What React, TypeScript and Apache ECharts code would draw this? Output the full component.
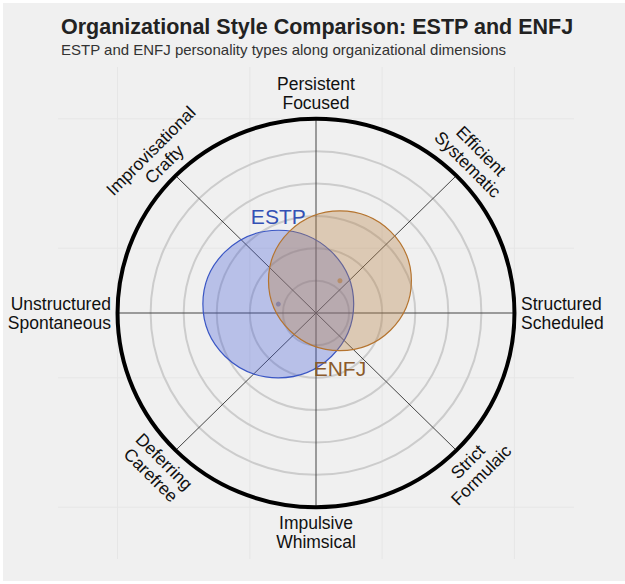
import React, { useEffect, useRef } from "react";
import * as echarts from "echarts";

// Compass of organizational dimensions (degrees, counter-clockwise from the right)
const dimensionAngles = [0, 45, 90, 135, 180, 225, 270, 315];
const dimensionLabels = [
  "Structured\nScheduled",
  "Efficient\nSystematic",
  "Persistent\nFocused",
  "Improvisational\nCrafty",
  "Unstructured\nSpontaneous",
  "Deferring\nCarefree",
  "Impulsive\nWhimsical",
  "Strict\nFormulaic",
];

// Radial scale
const ringRadii = [0.25, 0.5, 0.75, 1.0, 1.25];
const outerRadius = [1.5];
const backgroundTicks = [-1.5, -0.5, 0.5, 1.5];

// Personality types: position of centre and spread
const typeNames = ["ESTP", "ENFJ"];
const typeCenterX = [-0.285, 0.181];
const typeCenterY = [0.069, 0.249];
const typeSpread = [0.57, 0.54];
const typeLabelSide = [1, -1];

const X_MIN = -1.95;
const X_MAX = 1.95;
const Y_MIN = -1.9;
const Y_MAX = 1.9;
const LABEL_RADIUS = 1.55;
const TYPE_LABEL_OFFSET = 0.675;
const FONT = "Liberation Sans, Arial, Helvetica, sans-serif";

const typeStroke = ["#3a56c4", "#b5742f"];
const typeFill = ["rgba(65,90,215,0.32)", "rgba(184,128,70,0.35)"];
const typeText = ["#3350b5", "#8b5a2b"];

export default function App() {
  const ref = useRef<HTMLDivElement>(null);

  useEffect(() => {
    if (!ref.current) return;
    const chart = echarts.init(ref.current, null, { renderer: "svg" });

    const option: any = {
      animation: false,
      backgroundColor: "#ffffff",
      graphic: [
        {
          type: "rect",
          z: -10,
          shape: { x: 3, y: 3, width: 622, height: 578 },
          style: { fill: "#f0f0f0" },
          silent: true,
        },
        {
          type: "text",
          x: 61,
          y: 27,
          style: {
            text: "Organizational Style Comparison: ESTP and ENFJ",
            fill: "#222222",
            fontFamily: FONT,
            fontSize: 21.5,
            fontWeight: "bold",
            align: "left",
            verticalAlign: "middle",
            textAlign: "left",
            textVerticalAlign: "middle",
          },
        },
        {
          type: "text",
          x: 61,
          y: 49,
          style: {
            text: "ESTP and ENFJ personality types along organizational dimensions",
            fill: "#333333",
            fontFamily: FONT,
            fontSize: 15,
            align: "left",
            verticalAlign: "middle",
            textAlign: "left",
            textVerticalAlign: "middle",
          },
        },
      ],
      grid: { left: 58, top: 67, width: 516, height: 492, show: false },
      xAxis: { type: "value", min: X_MIN, max: X_MAX, show: false },
      yAxis: { type: "value", min: Y_MIN, max: Y_MAX, show: false },
      series: [
        // faint background grid
        {
          type: "custom",
          coordinateSystem: "cartesian2d",
          silent: true,
          z: 1,
          data: backgroundTicks.map((v) => [v]),
          renderItem: (_p: any, api: any) => {
            const v = api.value(0);
            const a = api.coord([v, Y_MIN]);
            const b = api.coord([v, Y_MAX]);
            const c = api.coord([X_MIN, v]);
            const d = api.coord([X_MAX, v]);
            const style = { stroke: "#e6e6e6", lineWidth: 1 };
            return {
              type: "group",
              children: [
                { type: "line", shape: { x1: a[0], y1: a[1], x2: b[0], y2: b[1] }, style },
                { type: "line", shape: { x1: c[0], y1: c[1], x2: d[0], y2: d[1] }, style },
              ],
            };
          },
        },
        // concentric rings
        {
          type: "custom",
          coordinateSystem: "cartesian2d",
          silent: true,
          z: 2,
          data: ringRadii.map((r) => [r]),
          renderItem: (_p: any, api: any) => {
            const c = api.coord([0, 0]);
            const r = api.value(0);
            const s = api.size([r, r]);
            return {
              type: "ellipse",
              shape: { cx: c[0], cy: c[1], rx: s[0], ry: s[1] },
              style: { fill: "none", stroke: "#cccccc", lineWidth: 2 },
            };
          },
        },
        // spokes
        {
          type: "custom",
          coordinateSystem: "cartesian2d",
          silent: true,
          z: 3,
          data: dimensionAngles.map((a) => [a]),
          renderItem: (_p: any, api: any) => {
            const a = (api.value(0) * Math.PI) / 180;
            const R = outerRadius[0];
            const c = api.coord([0, 0]);
            const e = api.coord([R * Math.cos(a), R * Math.sin(a)]);
            return {
              type: "line",
              shape: { x1: c[0], y1: c[1], x2: e[0], y2: e[1] },
              style: { stroke: "#444444", lineWidth: 1 },
            };
          },
        },
        // outer boundary
        {
          type: "custom",
          coordinateSystem: "cartesian2d",
          silent: true,
          z: 4,
          data: outerRadius.map((r) => [r]),
          renderItem: (_p: any, api: any) => {
            const c = api.coord([0, 0]);
            const r = api.value(0);
            const s = api.size([r, r]);
            return {
              type: "ellipse",
              shape: { cx: c[0], cy: c[1], rx: s[0], ry: s[1] },
              style: { fill: "none", stroke: "#000000", lineWidth: 4 },
            };
          },
        },
        // dimension labels
        {
          type: "custom",
          coordinateSystem: "cartesian2d",
          silent: true,
          z: 5,
          data: dimensionAngles.map((a, i) => [a, i]),
          renderItem: (_p: any, api: any) => {
            const deg = api.value(0);
            const i = api.value(1);
            const a = (deg * Math.PI) / 180;
            const pt = api.coord([LABEL_RADIUS * Math.cos(a), LABEL_RADIUS * Math.sin(a)]);
            let align = "center";
            let vAlign = "middle";
            let rot = 0;
            if (deg === 0) align = "left";
            else if (deg === 180) align = "right";
            else if (deg < 180) {
              vAlign = "bottom";
              rot = deg - 90;
            } else {
              vAlign = "top";
              rot = deg - 270;
            }
            return {
              type: "text",
              x: pt[0],
              y: pt[1],
              rotation: (rot * Math.PI) / 180,
              style: {
                text: dimensionLabels[i],
                fill: "#111111",
                fontFamily: FONT,
                fontSize: 17.5,
                lineHeight: 19,
                align,
                verticalAlign: vAlign,
                textAlign: align,
                textVerticalAlign: vAlign,
              },
            };
          },
        },
        // personality type circles
        {
          type: "custom",
          coordinateSystem: "cartesian2d",
          silent: true,
          z: 6,
          data: typeNames.map((_n, i) => [typeCenterX[i], typeCenterY[i], typeSpread[i], i]),
          renderItem: (_p: any, api: any) => {
            const cx = api.value(0);
            const cy = api.value(1);
            const r = api.value(2);
            const i = api.value(3);
            const c = api.coord([cx, cy]);
            const s = api.size([r, r]);
            const lp = api.coord([cx, cy + typeLabelSide[i] * TYPE_LABEL_OFFSET]);
            return {
              type: "group",
              children: [
                {
                  type: "ellipse",
                  shape: { cx: c[0], cy: c[1], rx: s[0], ry: s[1] },
                  style: { fill: typeFill[i], stroke: typeStroke[i], lineWidth: 1.2 },
                },
                {
                  type: "circle",
                  shape: { cx: c[0], cy: c[1], r: 2.5 },
                  style: { fill: typeStroke[i], opacity: 0.55 },
                },
                {
                  type: "text",
                  x: lp[0],
                  y: lp[1],
                  style: {
                    text: typeNames[i],
                    fill: typeText[i],
                    fontFamily: FONT,
                    fontSize: 21,
                    align: "center",
                    verticalAlign: "middle",
                    textAlign: "center",
                    textVerticalAlign: "middle",
                  },
                },
              ],
            };
          },
        },
      ],
    };

    chart.setOption(option);
    return () => chart.dispose();
  }, []);

  return (
    <div
      ref={ref}
      style={{ position: "absolute", left: 0, top: 0, width: 625, height: 584 }}
    />
  );
}
